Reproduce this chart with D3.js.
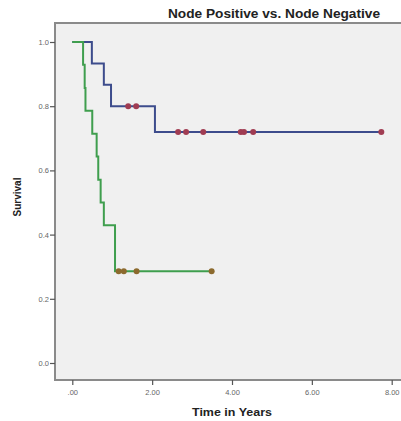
<!DOCTYPE html>
<html>
<head>
<meta charset="utf-8">
<script src="https://cdn.jsdelivr.net/npm/d3@7"></script>
<style>
body { margin:0; background:#fff; }
text { font-family: Arial, "Liberation Sans", sans-serif; }
</style>
</head>
<body>
<svg id="chart"></svg>
<script>
// Kaplan-Meier estimates
var negTimes = [0, 0.49, 0.79, 0.97, 2.07, 7.74]
var negSurv = [1.0, 0.933, 0.867, 0.8, 0.72, 0.72]
var negCensor = [1.40, 1.60, 2.65, 2.85, 3.28, 4.22, 4.30, 4.53, 7.74]

var posTimes = [0, 0.27, 0.31, 0.33, 0.50, 0.61, 0.65, 0.71, 0.79, 1.07, 3.49]
var posSurv = [1.0, 0.929, 0.857, 0.786, 0.714, 0.643, 0.571, 0.5, 0.429, 0.286, 0.286]
var posCensor = [1.16, 1.29, 1.61, 3.49]

var xTicks = [0, 2, 4, 6, 8]
var xTickLabels = [".00", "2.00", "4.00", "6.00", "8.00"]
var yTicks = [0, 0.2, 0.4, 0.6, 0.8, 1.0]

var screen = {width:401, height:421}

var svg = d3.select("#chart")
    .attr("width", screen.width)
    .attr("height", screen.height)

var xScale = d3.scaleLinear().domain([0, 8]).range([72.3, 391.7])
var yScale = d3.scaleLinear().domain([0, 1]).range([363, 42])

var frame = {left:55, top:23, bottom:380}

// plot area
svg.append("rect")
    .attr("x", frame.left)
    .attr("y", frame.top)
    .attr("width", screen.width - frame.left + 5)
    .attr("height", frame.bottom - frame.top)
    .attr("fill", "#f0f0f0")
    .attr("stroke", "#8a8a8a")
    .attr("stroke-width", 2)

// axes
var xAxis = d3.axisBottom(xScale)
    .tickValues(xTicks)
    .tickSize(5)
    .tickFormat(function(d, i) { return xTickLabels[i] })
var yAxis = d3.axisLeft(yScale)
    .tickValues(yTicks)
    .tickSize(5)
    .tickFormat(d3.format(".1f"))

var gx = svg.append("g")
    .attr("transform", "translate(0," + frame.bottom + ")")
    .call(xAxis)
gx.select(".domain").remove()

var gy = svg.append("g")
    .attr("transform", "translate(" + frame.left + ",0)")
    .call(yAxis)
gy.select(".domain").remove()

svg.selectAll(".tick line").attr("stroke", "#555").attr("stroke-width", 1.2)
svg.selectAll(".tick text")
    .attr("fill", "#666")
    .style("font-size", "7.5px")
gx.selectAll(".tick text").attr("dy", "0.9em")
gy.selectAll(".tick text").attr("x", -6)

// step curves
var makePts = function(times, surv) {
    return times.map(function(t, i) { return [t, surv[i]] })
}
var line = d3.line()
    .x(function(d) { return xScale(d[0]) })
    .y(function(d) { return yScale(d[1]) })
    .curve(d3.curveStepAfter)

var stepAt = function(times, surv, t) {
    var v = surv[0]
    for (var i = 0; i < times.length; i++) {
        if (times[i] <= t) v = surv[i]
    }
    return v
}

var drawCurve = function(times, surv, censor, color, mark) {
    svg.append("path")
        .datum(makePts(times, surv))
        .attr("d", line)
        .attr("fill", "none")
        .attr("stroke", color)
        .attr("stroke-width", 2)
    svg.append("g")
        .selectAll("circle")
        .data(censor)
        .enter()
        .append("circle")
        .attr("cx", function(d) { return xScale(d) })
        .attr("cy", function(d) { return yScale(stepAt(times, surv, d)) })
        .attr("r", 3)
        .attr("fill", mark)
}

drawCurve(negTimes, negSurv, negCensor, "#3d4c8c", "#a03c52")
drawCurve(posTimes, posSurv, posCensor, "#3f9e4e", "#8c6a2e")

// titles
svg.append("text")
    .attr("x", 274)
    .attr("y", 18)
    .attr("text-anchor", "middle")
    .attr("textLength", 212)
    .attr("lengthAdjust", "spacingAndGlyphs")
    .style("font-size", "12.5px")
    .style("font-weight", "bold")
    .attr("fill", "#222")
    .text("Node Positive vs. Node Negative")

svg.append("text")
    .attr("x", 232)
    .attr("y", 416)
    .attr("text-anchor", "middle")
    .attr("textLength", 80)
    .attr("lengthAdjust", "spacingAndGlyphs")
    .style("font-size", "11px")
    .style("font-weight", "bold")
    .attr("fill", "#222")
    .text("Time in Years")

svg.append("text")
    .attr("transform", "translate(21,197) rotate(-90)")
    .attr("text-anchor", "middle")
    .style("font-size", "10px")
    .style("font-weight", "bold")
    .attr("fill", "#222")
    .text("Survival")
</script>
</body>
</html>
